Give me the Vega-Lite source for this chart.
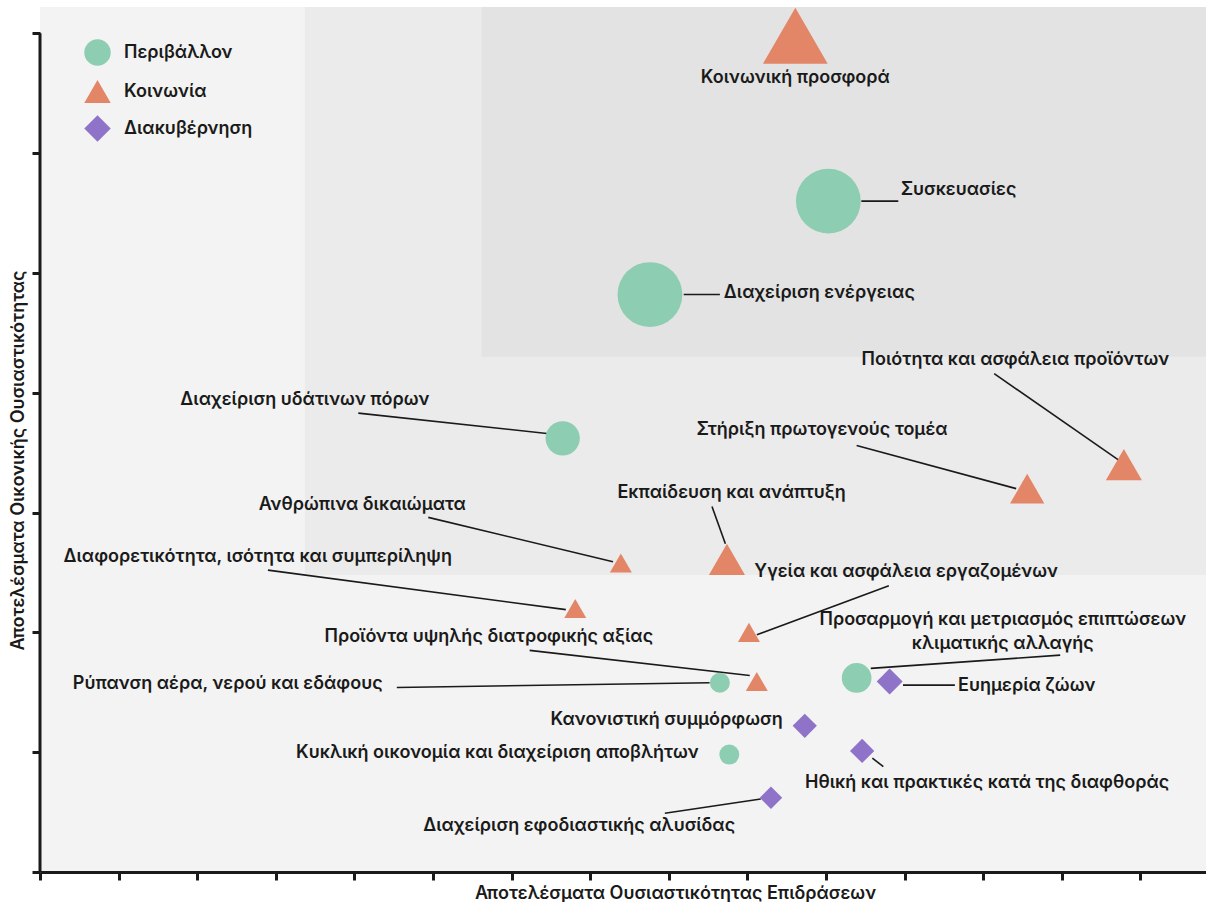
{
  "$schema": "https://vega.github.io/schema/vega-lite/v6.json",
  "width": 1166,
  "height": 865,
  "autosize": {"type": "none"},
  "padding": {"left": 40, "top": 7, "right": 0, "bottom": 30},
  "background": "white",
  "config": {
    "view": {"fill": "#f3f3f3", "stroke": null},
    "font": "Inter",
    "text": {"font": "Inter", "fontSize": 18, "fontWeight": 600, "fill": "#1a1a1a"},
    "axis": {"labels": false, "grid": false, "ticks": true, "tickSize": 8, "tickWidth": 3, "tickColor": "#1a1a1a", "zindex": 1,
      "titleFont": "Inter", "titleFontSize": 18, "titleFontWeight": 600, "titleColor": "#1a1a1a", "titleAnchor": "middle"},
    "axisX": {"domain": true, "domainWidth": 3, "domainColor": "#1a1a1a", "titleX": 635, "titleY": 26, "titleBaseline": "alphabetic"},
    "axisY": {"domain": false, "titleX": -22, "titleY": 453, "titleBaseline": "middle", "titleAngle": -90}
  },
  "datasets": {
    "midzone": [{"x0": 3.37, "x1": 14.835, "y0": 2.48, "y1": 7.22}],
    "highzone": [{"x0": 5.62, "x1": 14.835, "y0": 4.30, "y1": 7.22}],
    "axisline": [{"x": 0, "y0": 0, "y1": 7}],
    "themes": [
      {"t": "Κοινωνική προσφορά", "c": "Κοινωνία", "x": 9.61, "y": 6.98, "w": 100, "lx": 9.61, "ly": 6.63, "a": "center"},
      {"t": "Συσκευασίες", "c": "Περιβάλλον", "x": 10.03, "y": 5.60, "w": 100, "lx": 10.95, "ly": 5.69, "a": "left", "ax": 10.45, "ay": 5.60, "bx": 10.92, "by": 5.60},
      {"t": "Διαχείριση ενέργειας", "c": "Περιβάλλον", "x": 7.76, "y": 4.82, "w": 100, "lx": 8.70, "ly": 4.83, "a": "left", "ax": 8.19, "ay": 4.82, "bx": 8.65, "by": 4.82},
      {"t": "Ποιότητα και ασφάλεια προϊόντων", "c": "Κοινωνία", "x": 13.79, "y": 3.40, "w": 31, "lx": 12.41, "ly": 4.27, "a": "center", "ax": 13.72, "ay": 3.44, "bx": 12.14, "by": 4.16},
      {"t": "Στήριξη πρωτογενούς τομέα", "c": "Κοινωνία", "x": 12.56, "y": 3.20, "w": 28, "lx": 9.95, "ly": 3.69, "a": "center", "ax": 12.42, "ay": 3.20, "bx": 10.39, "by": 3.56},
      {"t": "Διαχείριση υδάτινων πόρων", "c": "Περιβάλλον", "x": 6.65, "y": 3.62, "w": 28, "lx": 3.37, "ly": 3.94, "a": "center", "ax": 6.45, "ay": 3.66, "bx": 4.05, "by": 3.83},
      {"t": "Εκπαίδευση και ανάπτυξη", "c": "Κοινωνία", "x": 8.74, "y": 2.61, "w": 31, "lx": 8.80, "ly": 3.16, "a": "center", "ax": 8.72, "ay": 2.74, "bx": 8.55, "by": 3.05},
      {"t": "Ανθρώπινα δικαιώματα", "c": "Κοινωνία", "x": 7.39, "y": 2.58, "w": 11.5, "lx": 4.10, "ly": 3.06, "a": "center", "ax": 7.29, "ay": 2.59, "bx": 4.94, "by": 2.96},
      {"t": "Διαφορετικότητα, ισότητα και συμπερίληψη", "c": "Κοινωνία", "x": 6.81, "y": 2.20, "w": 11.5, "lx": 2.77, "ly": 2.63, "a": "center", "ax": 6.69, "ay": 2.19, "bx": 2.90, "by": 2.52},
      {"t": "Υγεία και ασφάλεια εργαζομένων", "c": "Κοινωνία", "x": 9.02, "y": 2.00, "w": 11.5, "lx": 11.02, "ly": 2.50, "a": "center", "ax": 9.12, "ay": 1.98, "bx": 10.80, "by": 2.39},
      {"t": "Προϊόντα υψηλής διατροφικής αξίας", "c": "Κοινωνία", "x": 9.12, "y": 1.59, "w": 11.5, "lx": 5.71, "ly": 1.96, "a": "center", "ax": 9.03, "ay": 1.64, "bx": 6.23, "by": 1.85},
      {"t": "Ρύπανση αέρα, νερού και εδάφους", "c": "Περιβάλλον", "x": 8.65, "y": 1.58, "w": 9.5, "lx": 4.36, "ly": 1.57, "a": "right", "ax": 8.52, "ay": 1.58, "bx": 4.54, "by": 1.54},
      {"t": "Προσαρμογή και μετριασμός επιπτώσεων\nκλιματικής αλλαγής", "c": "Περιβάλλον", "x": 10.39, "y": 1.62, "w": 21, "lx": 12.25, "ly": 2.10, "a": "center", "ax": 10.57, "ay": 1.70, "bx": 12.98, "by": 1.81},
      {"t": "Ευημερία ζώων", "c": "Διακυβέρνηση", "x": 10.81, "y": 1.59, "w": 16, "lx": 11.68, "ly": 1.55, "a": "left", "ax": 10.98, "ay": 1.56, "bx": 11.64, "by": 1.56},
      {"t": "Κανονιστική συμμόρφωση", "c": "Διακυβέρνηση", "x": 9.73, "y": 1.22, "w": 14, "lx": 9.45, "ly": 1.27, "a": "right"},
      {"t": "Κυκλική οικονομία και διαχείριση αποβλήτων", "c": "Περιβάλλον", "x": 8.77, "y": 0.98, "w": 9.5, "lx": 8.38, "ly": 0.99, "a": "right"},
      {"t": "Ηθική και πρακτικές κατά της διαφθοράς", "c": "Διακυβέρνηση", "x": 10.46, "y": 1.01, "w": 14, "lx": 12.05, "ly": 0.74, "a": "center", "ax": 10.59, "ay": 0.95, "bx": 10.73, "by": 0.88},
      {"t": "Διαχείριση εφοδιαστικής αλυσίδας", "c": "Διακυβέρνηση", "x": 9.30, "y": 0.62, "w": 12, "lx": 6.86, "ly": 0.38, "a": "center", "ax": 9.17, "ay": 0.61, "bx": 7.95, "by": 0.49}
    ]
  },
  "layer": [
    {
      "data": {"name": "midzone"},
      "mark": {"type": "rect", "color": "#ebebeb"},
      "encoding": {
        "x": {"field": "x0", "type": "quantitative", "scale": {"domain": [0, 14.835], "nice": false, "zero": false}, "title": "Αποτελέσματα Ουσιαστικότητας Επιδράσεων", "axis": {"values": [0,1,2,3,4,5,6,7,8,9,10,11,12,13,14]}},
        "x2": {"field": "x1"},
        "y": {"field": "y0", "type": "quantitative", "scale": {"domain": [0, 7.22], "nice": false, "zero": false}, "title": "Αποτελέσματα Οικονικής Ουσιαστικότητας", "axis": {"values": [0,1,2,3,4,5,6,7]}},
        "y2": {"field": "y1"}
      }
    },
    {
      "data": {"name": "highzone"},
      "mark": {"type": "rect", "color": "#e3e3e3"},
      "encoding": {
        "x": {"field": "x0", "type": "quantitative", "title": "Αποτελέσματα Ουσιαστικότητας Επιδράσεων", "axis": {"values": [0,1,2,3,4,5,6,7,8,9,10,11,12,13,14]}},
        "x2": {"field": "x1"},
        "y": {"field": "y0", "type": "quantitative", "title": "Αποτελέσματα Οικονικής Ουσιαστικότητας", "axis": {"values": [0,1,2,3,4,5,6,7]}},
        "y2": {"field": "y1"}
      }
    },
    {
      "data": {"name": "axisline"},
      "mark": {"type": "rule", "color": "#1a1a1a", "strokeWidth": 3},
      "encoding": {
        "x": {"field": "x", "type": "quantitative", "title": "Αποτελέσματα Ουσιαστικότητας Επιδράσεων", "axis": {"values": [0,1,2,3,4,5,6,7,8,9,10,11,12,13,14]}},
        "y": {"field": "y0", "type": "quantitative", "title": "Αποτελέσματα Οικονικής Ουσιαστικότητας", "axis": {"values": [0,1,2,3,4,5,6,7]}},
        "y2": {"field": "y1"}
      }
    },
    {
      "data": {"name": "themes"},
      "transform": [{"filter": "isValid(datum.ax)"}],
      "mark": {"type": "rule", "color": "#1a1a1a", "strokeWidth": 1.6},
      "encoding": {
        "x": {"field": "ax", "type": "quantitative", "title": "Αποτελέσματα Ουσιαστικότητας Επιδράσεων", "axis": {"values": [0,1,2,3,4,5,6,7,8,9,10,11,12,13,14]}},
        "y": {"field": "ay", "type": "quantitative", "title": "Αποτελέσματα Οικονικής Ουσιαστικότητας", "axis": {"values": [0,1,2,3,4,5,6,7]}},
        "x2": {"field": "bx"},
        "y2": {"field": "by"}
      }
    },
    {
      "data": {"name": "themes"},
      "mark": {"type": "point", "filled": true, "opacity": 1, "strokeWidth": 0},
      "encoding": {
        "x": {"field": "x", "type": "quantitative", "title": "Αποτελέσματα Ουσιαστικότητας Επιδράσεων", "axis": {"values": [0,1,2,3,4,5,6,7,8,9,10,11,12,13,14]}},
        "y": {"field": "y", "type": "quantitative", "title": "Αποτελέσματα Οικονικής Ουσιαστικότητας", "axis": {"values": [0,1,2,3,4,5,6,7]}},
        "size": {"field": "w", "type": "quantitative", "scale": {"domain": [0, 100], "range": [0, 4200], "zero": true}, "legend": null},
        "color": {"field": "c", "type": "nominal", "scale": {"domain": ["Περιβάλλον", "Κοινωνία", "Διακυβέρνηση"], "range": ["#8dcdb2", "#e38567", "#8e73c9"]},
          "legend": {"title": null, "orient": "none", "legendX": 44, "legendY": 32, "labelFont": "Inter", "labelFontSize": 18, "labelFontWeight": 600, "labelColor": "#1a1a1a", "symbolSize": 700, "rowPadding": 12, "labelOffset": 13, "symbolStrokeWidth": 0, "symbolOpacity": 1}},
        "shape": {"field": "c", "type": "nominal", "scale": {"domain": ["Περιβάλλον", "Κοινωνία", "Διακυβέρνηση"], "range": ["circle", "triangle-up", "diamond"]},
          "legend": {"title": null, "orient": "none", "legendX": 44, "legendY": 32, "labelFont": "Inter", "labelFontSize": 18, "labelFontWeight": 600, "labelColor": "#1a1a1a", "symbolSize": 700, "rowPadding": 12, "labelOffset": 13, "symbolStrokeWidth": 0, "symbolOpacity": 1}}
      }
    },
    {
      "data": {"name": "themes"},
      "transform": [{"filter": "datum.a === 'center'"}],
      "mark": {"type": "text", "align": "center", "baseline": "middle", "lineBreak": "\n", "lineHeight": 24},
      "encoding": {
        "x": {"field": "lx", "type": "quantitative", "title": "Αποτελέσματα Ουσιαστικότητας Επιδράσεων", "axis": {"values": [0,1,2,3,4,5,6,7,8,9,10,11,12,13,14]}},
        "y": {"field": "ly", "type": "quantitative", "title": "Αποτελέσματα Οικονικής Ουσιαστικότητας", "axis": {"values": [0,1,2,3,4,5,6,7]}},
        "text": {"field": "t"}
      }
    },
    {
      "data": {"name": "themes"},
      "transform": [{"filter": "datum.a === 'left'"}],
      "mark": {"type": "text", "align": "left", "baseline": "middle"},
      "encoding": {
        "x": {"field": "lx", "type": "quantitative", "title": "Αποτελέσματα Ουσιαστικότητας Επιδράσεων", "axis": {"values": [0,1,2,3,4,5,6,7,8,9,10,11,12,13,14]}},
        "y": {"field": "ly", "type": "quantitative", "title": "Αποτελέσματα Οικονικής Ουσιαστικότητας", "axis": {"values": [0,1,2,3,4,5,6,7]}},
        "text": {"field": "t"}
      }
    },
    {
      "data": {"name": "themes"},
      "transform": [{"filter": "datum.a === 'right'"}],
      "mark": {"type": "text", "align": "right", "baseline": "middle"},
      "encoding": {
        "x": {"field": "lx", "type": "quantitative", "title": "Αποτελέσματα Ουσιαστικότητας Επιδράσεων", "axis": {"values": [0,1,2,3,4,5,6,7,8,9,10,11,12,13,14]}},
        "y": {"field": "ly", "type": "quantitative", "title": "Αποτελέσματα Οικονικής Ουσιαστικότητας", "axis": {"values": [0,1,2,3,4,5,6,7]}},
        "text": {"field": "t"}
      }
    }
  ]
}
